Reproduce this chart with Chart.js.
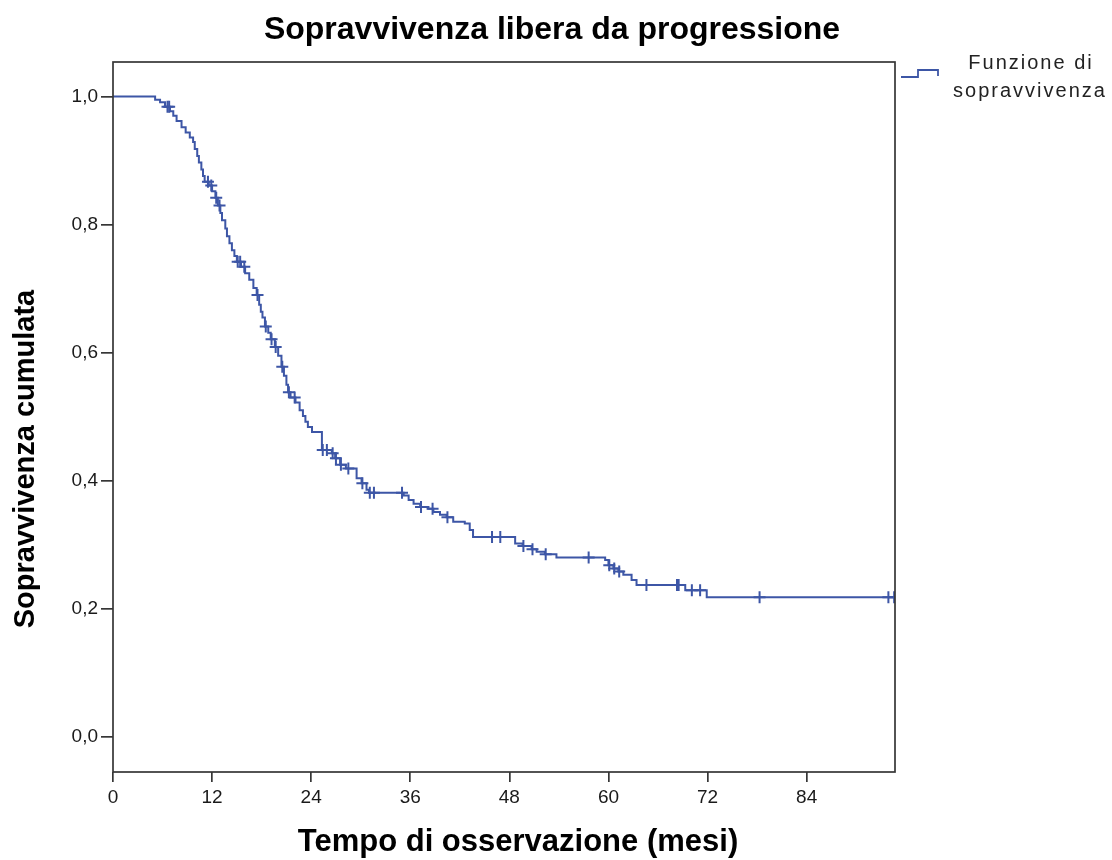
<!DOCTYPE html>
<html lang="it">
<head>
<meta charset="utf-8">
<title>Sopravvivenza libera da progressione</title>
<script src="https://cdn.jsdelivr.net/npm/chart.js@4.4.1/dist/chart.umd.min.js"></script>
<style>
  html, body { margin: 0; padding: 0; background: #fff; }
  #wrap { width: 1112px; height: 860px; }
</style>
</head>
<body>
<div id="wrap"><canvas id="km" width="1112" height="860"></canvas></div>
<script>
// --- Data ---
const kmTimes = [0, 5.1, 5.7, 6.3, 6.9, 7.3, 7.7, 8.3, 8.8, 9.3, 9.7, 9.9, 10.2, 10.4, 10.7, 10.9, 11.1,
    11.6, 12.0, 12.4, 12.7, 13.0, 13.2, 13.6, 13.8, 14.1, 14.4, 14.7, 15.0, 15.5, 16.0, 16.5, 17.0,
    17.4, 17.7, 17.9, 18.1, 18.4, 18.8, 19.1, 19.6, 20.0, 20.4, 20.7, 21.0, 21.2, 21.5, 22.1, 22.6,
    23.0, 23.3, 23.6, 24.1, 25.3, 26.5, 26.9, 27.5, 28.2, 29.5, 30.1, 30.7, 31.0, 35.2, 35.8, 36.4,
    37.2, 38.2, 38.8, 39.6, 40.4, 41.2, 42.6, 43.2, 43.6, 48.7, 49.6, 50.7, 51.3, 52.3, 53.7, 59.6,
    60.0, 60.6, 61.2, 61.8, 62.8, 63.4, 69.3, 71.9, 94.6];
const kmSurv = [1.000, 0.995, 0.991, 0.984, 0.977, 0.970, 0.962, 0.952, 0.944, 0.936, 0.929, 0.918, 0.907, 0.897, 0.886, 0.876, 0.867,
    0.861, 0.852, 0.842, 0.830, 0.818, 0.807, 0.794, 0.782, 0.771, 0.760, 0.751, 0.742, 0.734, 0.724, 0.714, 0.701,
    0.690, 0.675, 0.664, 0.655, 0.641, 0.631, 0.621, 0.609, 0.595, 0.578, 0.564, 0.550, 0.538, 0.530, 0.522, 0.510,
    0.501, 0.492, 0.484, 0.476, 0.448, 0.443, 0.435, 0.425, 0.419, 0.404, 0.396, 0.386, 0.381, 0.377, 0.370, 0.364,
    0.359, 0.356, 0.351, 0.347, 0.343, 0.336, 0.333, 0.323, 0.312, 0.302, 0.298, 0.293, 0.289, 0.285, 0.280, 0.276,
    0.268, 0.263, 0.258, 0.253, 0.245, 0.237, 0.229, 0.218, 0.218];

// censored cases (+ marks)
const censorTimes = [6.6, 6.8, 11.5, 11.9, 12.5, 12.9, 15.1, 15.4, 15.9, 17.5, 18.5, 19.2, 19.7, 20.5, 21.3, 22.0,
    25.4, 25.9, 26.6, 27.0, 27.6, 28.5, 30.2, 31.1, 31.6, 35.0, 37.3, 38.7, 40.5, 45.9, 46.9, 49.7, 50.8,
    52.4, 57.6, 60.1, 60.7, 61.3, 64.6, 68.3, 68.5, 70.1, 71.1, 78.3, 93.9, 94.6];
const censorSurv = [0.984, 0.984, 0.867, 0.861, 0.842, 0.830, 0.742, 0.742, 0.734, 0.690, 0.641, 0.621, 0.609, 0.578, 0.538, 0.530,
    0.448, 0.448, 0.443, 0.435, 0.425, 0.419, 0.396, 0.381, 0.381, 0.381, 0.359, 0.356, 0.343, 0.312, 0.312, 0.298, 0.293,
    0.285, 0.280, 0.268, 0.263, 0.258, 0.237, 0.237, 0.237, 0.229, 0.229, 0.218, 0.218, 0.218];

const xTicks = [0, 12, 24, 36, 48, 60, 72, 84];
const yTicks = [0, 0.2, 0.4, 0.6, 0.8, 1.0];

const chartTitle = 'Sopravvivenza libera da progressione';
const xTitle = 'Tempo di osservazione (mesi)';
const yTitle = 'Sopravvivenza cumulata';
const legendLines = ['Funzione di', 'sopravvivenza'];

// --- Styles ---
const LINE_COLOR = '#3d56a6';
const AXIS_COLOR = '#363636';
const FONT = "'Liberation Sans', Arial, Helvetica, sans-serif";

// box around the plot area
const framePlugin = {
    id: 'frame',
    afterDraw(chart) {
        const { ctx, chartArea: a } = chart;
        ctx.save();
        ctx.strokeStyle = AXIS_COLOR;
        ctx.lineWidth = 1.7;
        ctx.strokeRect(a.left, a.top, a.right - a.left, a.bottom - a.top);
        ctx.restore();
    }
};

// titles (SPSS places them off-centre) and the side legend
const labelsPlugin = {
    id: 'labels',
    afterDraw(chart) {
        const { ctx, chartArea: a } = chart;
        ctx.save();
        ctx.fillStyle = '#000';
        ctx.textAlign = 'center';
        ctx.textBaseline = 'middle';

        ctx.font = 'bold 32px ' + FONT;
        ctx.fillText(chartTitle, 552, 30);

        ctx.font = 'bold 31px ' + FONT;
        ctx.fillText(xTitle, a.left + 405, 842);

        ctx.save();
        ctx.translate(26, a.top + 397);
        ctx.rotate(-Math.PI / 2);
        ctx.font = 'bold 29px ' + FONT;
        ctx.fillText(yTitle, 0, 0);
        ctx.restore();

        // legend symbol: a small step
        const lx = a.right + 6, ly = 77;
        ctx.strokeStyle = LINE_COLOR;
        ctx.lineWidth = 1.8;
        ctx.beginPath();
        ctx.moveTo(lx, ly);
        ctx.lineTo(lx + 17, ly);
        ctx.lineTo(lx + 17, ly - 7);
        ctx.lineTo(lx + 37, ly - 7);
        ctx.lineTo(lx + 37, ly - 1);
        ctx.stroke();

        ctx.fillStyle = '#222';
        ctx.font = '20px ' + FONT;
        ctx.letterSpacing = '2px';
        ctx.textBaseline = 'alphabetic';
        ctx.fillText(legendLines[0], 1031, 69);
        ctx.fillText(legendLines[1], 1030, 97);
        ctx.restore();
    }
};

const tickFont = { family: FONT, size: 19 };

new Chart(document.getElementById('km'), {
    type: 'line',
    data: {
        datasets: [
            {
                label: 'Funzione di sopravvivenza',
                data: kmTimes.map((t, i) => ({ x: t, y: kmSurv[i] })),
                borderColor: LINE_COLOR,
                borderWidth: 2,
                stepped: 'before',
                pointRadius: 0,
                fill: false
            },
            {
                label: 'Censurato',
                data: censorTimes.map((t, i) => ({ x: t, y: censorSurv[i] })),
                showLine: false,
                pointStyle: 'cross',
                pointRadius: 6,
                borderColor: LINE_COLOR,
                borderWidth: 2,
                backgroundColor: LINE_COLOR
            }
        ]
    },
    options: {
        responsive: false,
        animation: false,
        layout: { padding: { left: 0, right: 217, top: 62, bottom: 0 } },
        plugins: {
            legend: { display: false },
            tooltip: { enabled: false },
            title: { display: false }
        },
        scales: {
            x: {
                type: 'linear',
                min: 0,
                max: 94.7,
                afterBuildTicks: (s) => { s.ticks = xTicks.map(v => ({ value: v })); },
                afterFit: (s) => { s.height = 88; },
                border: { display: false },
                grid: { drawOnChartArea: false, drawTicks: true, tickLength: 10, color: AXIS_COLOR, lineWidth: 1.7 },
                ticks: { font: tickFont, color: '#1a1a1a', padding: 4, maxRotation: 0, autoSkip: false }
            },
            y: {
                type: 'linear',
                min: -0.055,
                max: 1.054,
                afterBuildTicks: (s) => { s.ticks = yTicks.map(v => ({ value: v })); },
                afterFit: (s) => { s.width = 113; },
                border: { display: false },
                grid: { drawOnChartArea: false, drawTicks: true, tickLength: 12, color: AXIS_COLOR, lineWidth: 1.7 },
                ticks: { font: tickFont, color: '#1a1a1a', padding: 3, autoSkip: false,
                    callback: (v) => v.toFixed(1).replace('.', ',') }
            }
        }
    },
    plugins: [framePlugin, labelsPlugin]
});
</script>
</body>
</html>
